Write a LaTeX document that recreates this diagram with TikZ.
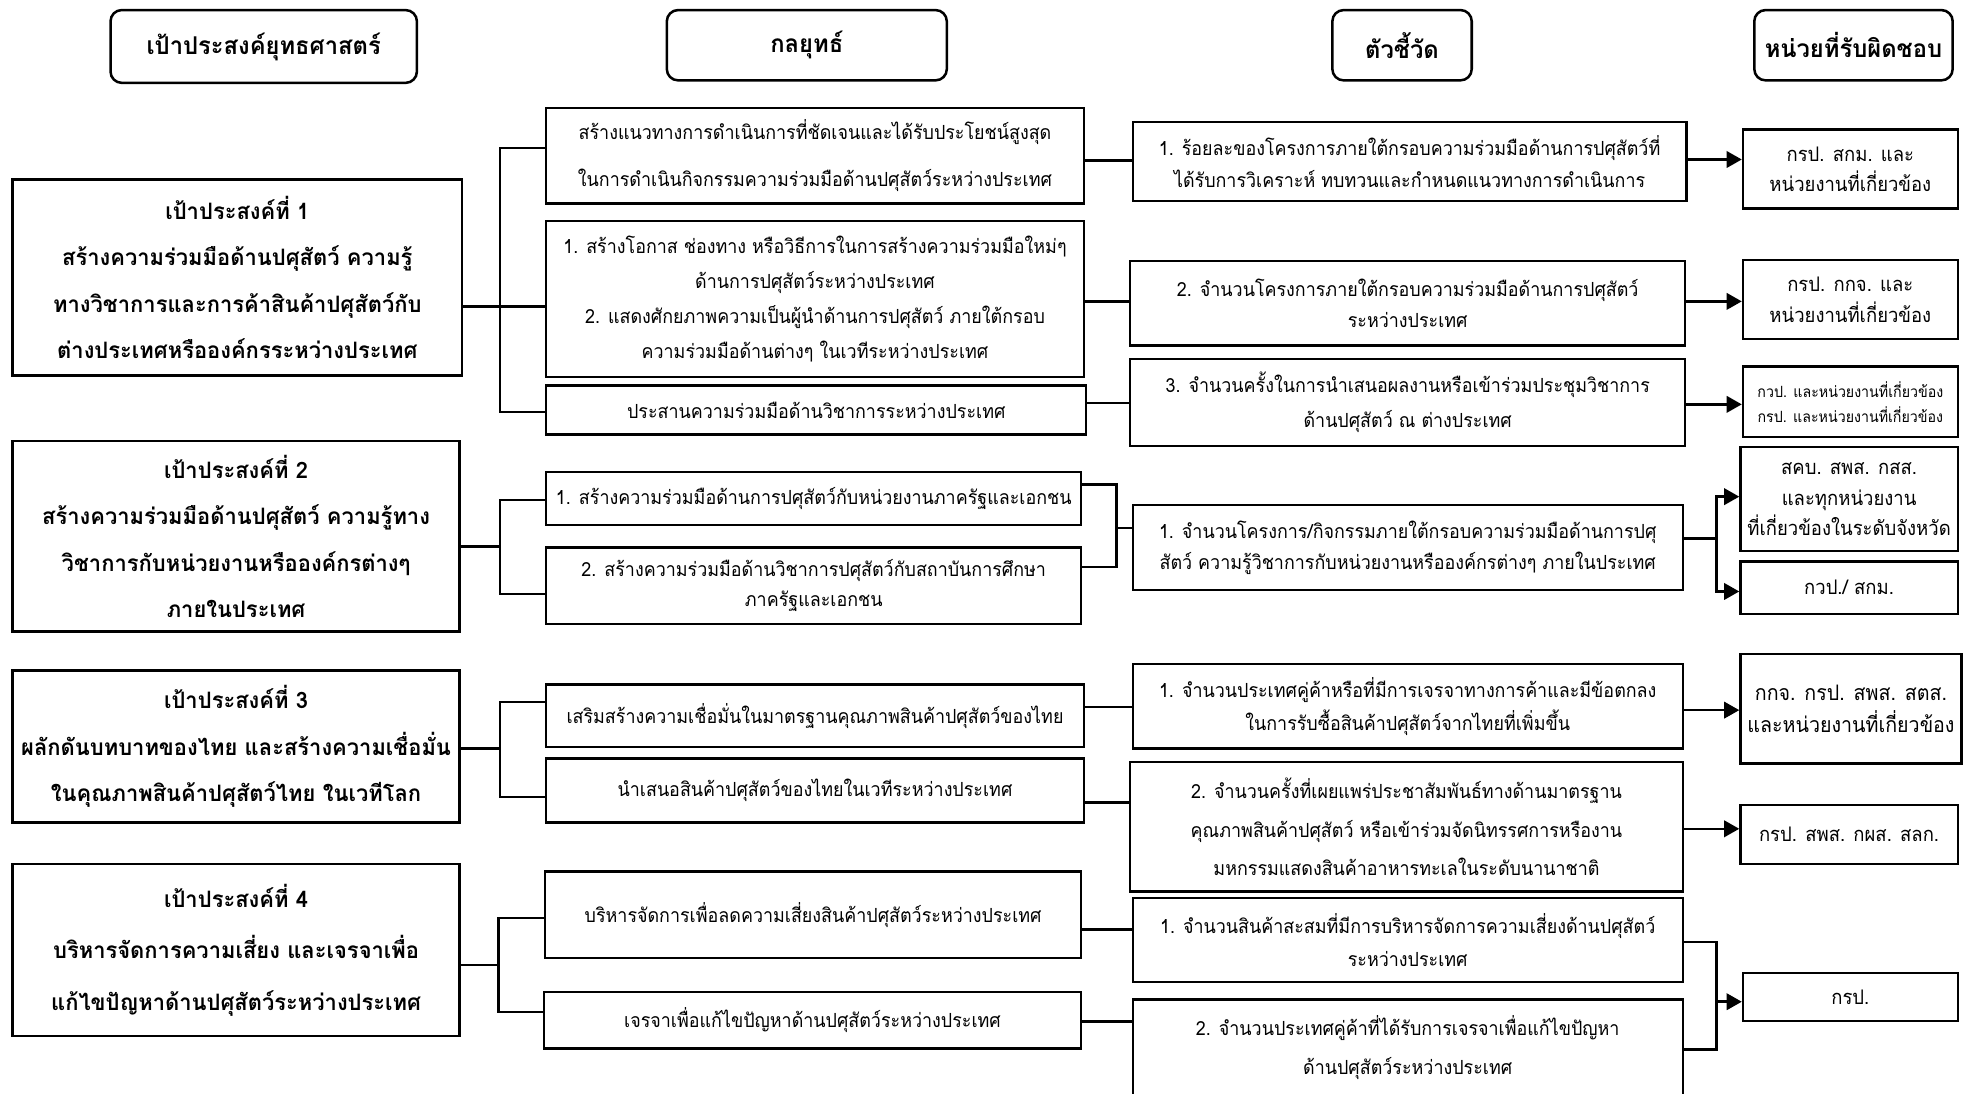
\documentclass[tikz,border=0pt]{standalone}
\usepackage{fontspec}
\setmainfont{Loma}[Script=Thai,FakeStretch=0.92]
\newfontfamily\goalfont{Loma}[Script=Thai,FakeStretch=0.97]
\usetikzlibrary{arrows.meta}
\newcommand\mybox[7]{\node[#1,minimum width={(#5-#3)*1pt},minimum height={(#6-#4)*1pt}] (#2) at ({(#3+#5)/2},{(#4+#6)/2}) {#7};}
\newcommand\fs[2]{\fontsize{#1}{#2}\selectfont}
\begin{document}
\begin{tikzpicture}[x=1pt,y=-1pt,
  hdr/.style={draw,line width=2pt,rounded corners=9pt,inner sep=0pt,font=\goalfont\bfseries\fs{19.5}{24}},
  goal/.style={draw,line width=2pt,inner sep=0pt,align=center,font=\goalfont\bfseries\fs{18}{37}},
  sbox/.style={draw,line width=1.9pt,inner sep=0pt,align=center,font=\fs{15.5}{25}},
  conn/.style={line width=2pt},
  arr/.style={conn,-{Triangle[length=12pt,width=13pt]}}]
\useasboundingbox (0,0) rectangle (1568,871);
% headers
\mybox{hdr}{H1}{88}{8}{332}{66}{เป้าประสงค์ยุทธศาสตร์}
\mybox{hdr}{H2}{531}{8}{754}{64}{กลยุทธ์}
\mybox{hdr}{H3}{1061}{8}{1172}{64}{ตัวชี้วัด}
\mybox{hdr}{H4}{1397}{8}{1555}{64}{หน่วยที่รับผิดชอบ}
% goals
\mybox{goal}{G1}{10}{143}{368}{299}{เป้าประสงค์ที่ 1\\สร้างความร่วมมือด้านปศุสัตว์ ความรู้\\ทางวิชาการและการค้าสินค้าปศุสัตว์กับ\\ต่างประเทศหรือองค์กรระหว่างประเทศ}
\mybox{goal}{G2}{10}{351}{366}{503}{เป้าประสงค์ที่ 2\\สร้างความร่วมมือด้านปศุสัตว์ ความรู้ทาง\\วิชาการกับหน่วยงานหรือองค์กรต่างๆ\\ภายในประเทศ}
\mybox{goal}{G3}{10}{534}{366}{655}{เป้าประสงค์ที่ 3\\ผลักดันบทบาทของไทย และสร้างความเชื่อมั่น\\ในคุณภาพสินค้าปศุสัตว์ไทย ในเวทีโลก}
\mybox{goal,font=\goalfont\bfseries\fs{18}{41}}{G4}{10}{688}{366}{825}{เป้าประสงค์ที่ 4\\บริหารจัดการความเสี่ยง และเจรจาเพื่อ\\แก้ไขปัญหาด้านปศุสัตว์ระหว่างประเทศ}
% strategies
\mybox{sbox,font=\fs{15.5}{37}}{S1a}{435}{86}{863}{162}{สร้างแนวทางการดำเนินการที่ชัดเจนและได้รับประโยชน์สูงสุด\\ในการดำเนินกิจกรรมความร่วมมือด้านปศุสัตว์ระหว่างประเทศ}
\mybox{sbox,font=\fs{15.5}{28}}{S1b}{435}{176}{863}{300}{1. สร้างโอกาส ช่องทาง หรือวิธีการในการสร้างความร่วมมือใหม่ๆ\\ด้านการปศุสัตว์ระหว่างประเทศ\\2. แสดงศักยภาพความเป็นผู้นำด้านการปศุสัตว์ ภายใต้กรอบ\\ความร่วมมือด้านต่างๆ ในเวทีระหว่างประเทศ}
\mybox{sbox}{S1c}{435}{307}{865}{346}{ประสานความร่วมมือด้านวิชาการระหว่างประเทศ}
\mybox{sbox}{S2a}{435}{376}{861}{418}{1. สร้างความร่วมมือด้านการปศุสัตว์กับหน่วยงานภาครัฐและเอกชน}
\mybox{sbox,font=\fs{15.5}{24}}{S2b}{435}{436}{861}{497}{2. สร้างความร่วมมือด้านวิชาการปศุสัตว์กับสถาบันการศึกษา\\ภาครัฐและเอกชน}
\mybox{sbox}{S3a}{435}{545}{863}{595}{เสริมสร้างความเชื่อมั่นในมาตรฐานคุณภาพสินค้าปศุสัตว์ของไทย}
\mybox{sbox}{S3b}{435}{604}{863}{655}{นำเสนอสินค้าปศุสัตว์ของไทยในเวทีระหว่างประเทศ}
\mybox{sbox}{S4a}{434}{694}{861}{763}{บริหารจัดการเพื่อลดความเสี่ยงสินค้าปศุสัตว์ระหว่างประเทศ}
\mybox{sbox}{S4b}{433}{790}{861}{835}{เจรจาเพื่อแก้ไขปัญหาด้านปศุสัตว์ระหว่างประเทศ}
% indicators
\mybox{sbox}{I1}{902}{97}{1343}{160}{1. ร้อยละของโครงการภายใต้กรอบความร่วมมือด้านการปศุสัตว์ที่\\ได้รับการวิเคราะห์ ทบทวนและกำหนดแนวทางการดำเนินการ}
\mybox{sbox}{I2}{900}{208}{1342}{275}{2. จำนวนโครงการภายใต้กรอบความร่วมมือด้านการปศุสัตว์\\ระหว่างประเทศ}
\mybox{sbox,font=\fs{15.5}{28}}{I3}{900}{286}{1342}{355}{3. จำนวนครั้งในการนำเสนอผลงานหรือเข้าร่วมประชุมวิชาการ\\ด้านปศุสัตว์ ณ ต่างประเทศ}
\mybox{sbox}{I4}{902}{402}{1340}{470}{1. จำนวนโครงการ/กิจกรรมภายใต้กรอบความร่วมมือด้านการปศุ\\สัตว์ ความรู้วิชาการกับหน่วยงานหรือองค์กรต่างๆ ภายในประเทศ}
\mybox{sbox,font=\fs{15.5}{26}}{I5}{902}{529}{1340}{596}{1. จำนวนประเทศคู่ค้าหรือที่มีการเจรจาทางการค้าและมีข้อตกลง\\ในการรับซื้อสินค้าปศุสัตว์จากไทยที่เพิ่มขึ้น}
\mybox{sbox,font=\fs{15.5}{30.5}}{I6}{900}{607}{1340}{710}{2. จำนวนครั้งที่เผยแพร่ประชาสัมพันธ์ทางด้านมาตรฐาน\\คุณภาพสินค้าปศุสัตว์ หรือเข้าร่วมจัดนิทรรศการหรืองาน\\มหกรรมแสดงสินค้าอาหารทะเลในระดับนานาชาติ}
\mybox{sbox,font=\fs{15.5}{26}}{I7}{902}{715}{1340}{782}{1. จำนวนสินค้าสะสมที่มีการบริหารจัดการความเสี่ยงด้านปศุสัตว์\\ระหว่างประเทศ}
\mybox{sbox,font=\fs{15.5}{31}}{I8}{902}{796}{1340}{872}{2. จำนวนประเทศคู่ค้าที่ได้รับการเจรจาเพื่อแก้ไขปัญหา\\ด้านปศุสัตว์ระหว่างประเทศ}
% responsible
\mybox{sbox,font=\fs{16}{24}}{R1}{1388}{103}{1559}{166}{กรป. สกม. และ\\หน่วยงานที่เกี่ยวข้อง}
\mybox{sbox,font=\fs{16}{25}}{R2}{1388}{207}{1559}{270}{กรป. กกจ. และ\\หน่วยงานที่เกี่ยวข้อง}
\mybox{sbox,font=\fs{12.3}{20}}{R3}{1388}{292}{1559}{348}{กวป. และหน่วยงานที่เกี่ยวข้อง\\กรป. และหน่วยงานที่เกี่ยวข้อง}
\mybox{sbox,font=\fs{16}{24.5}}{R4a}{1386}{356}{1559}{439}{สคบ. สพส. กสส.\\และทุกหน่วยงาน\\ที่เกี่ยวข้องในระดับจังหวัด}
\mybox{sbox,font=\fs{16}{25}}{R4b}{1386}{447}{1559}{489}{กวป./ สกม.}
\mybox{sbox,font=\fs{17}{26}}{R5}{1386}{521}{1562}{608}{กกจ. กรป. สพส. สตส.\\และหน่วยงานที่เกี่ยวข้อง}
\mybox{sbox,font=\fs{16}{25}}{R6}{1386}{641}{1559}{688}{กรป. สพส. กผส. สลก.}
\mybox{sbox,font=\fs{16}{25}}{R7}{1388}{775}{1559}{813}{กรป.}
% goal 1
\draw[conn] (G1.east |- 0,244) -- (S1b.west |- 0,244);
\draw[conn] (S1a.west |- 0,118) -| (398,328) -- (S1c.west |- 0,328);
\draw[conn] (S1a.east |- 0,128) -- (I1.west |- 0,128);
\draw[conn] (S1b.east |- 0,240) -- (I2.west |- 0,240);
\draw[conn] (S1c.east |- 0,321) -- (I3.west |- 0,321);
\draw[arr] (I1.east |- 0,127) -- (R1.west |- 0,127);
\draw[arr] (I2.east |- 0,240) -- (R2.west |- 0,240);
\draw[arr] (I3.east |- 0,322) -- (R3.west |- 0,322);
% goal 2
\draw[conn] (G2.east |- 0,435) -- (398,435);
\draw[conn] (S2a.west |- 0,398) -| (398,473) -- (S2b.west |- 0,473);
\draw[conn] (S2a.east |- 0,386) -| (889,451.5) -- (S2b.east |- 0,451.5);
\draw[conn] (889,420.5) -- (I4.west |- 0,420.5);
\draw[conn] (I4.east |- 0,429) -- (1367,429);
\draw[arr] (1367,429) |- (R4a.west |- 0,395.5);
\draw[arr] (1367,429) |- (R4b.west |- 0,471);
% goal 3
\draw[conn] (G3.east |- 0,596) -- (398,596);
\draw[conn] (S3a.west |- 0,559) -| (398,634.5) -- (S3b.west |- 0,634.5);
\draw[conn] (S3a.east |- 0,563) -- (I5.west |- 0,563);
\draw[conn] (S3b.east |- 0,639) -- (I6.west |- 0,639);
\draw[arr] (I5.east |- 0,565.5) -- (R5.west |- 0,565.5);
\draw[arr] (I6.east |- 0,660) -- (R6.west |- 0,660);
% goal 4
\draw[conn] (G4.east |- 0,768.5) -- (397,768.5);
\draw[conn] (S4a.west |- 0,731) -| (397,806) -- (S4b.west |- 0,806);
\draw[conn] (S4a.east |- 0,740) -- (I7.west |- 0,740);
\draw[conn] (S4b.east |- 0,813.6) -- (I8.west |- 0,813.6);
\draw[conn] (I7.east |- 0,750) -| (1367,835.6) -- (I8.east |- 0,835.6);
\draw[arr] (1367,797.7) -- (R7.west |- 0,797.7);
\end{tikzpicture}
\end{document}
